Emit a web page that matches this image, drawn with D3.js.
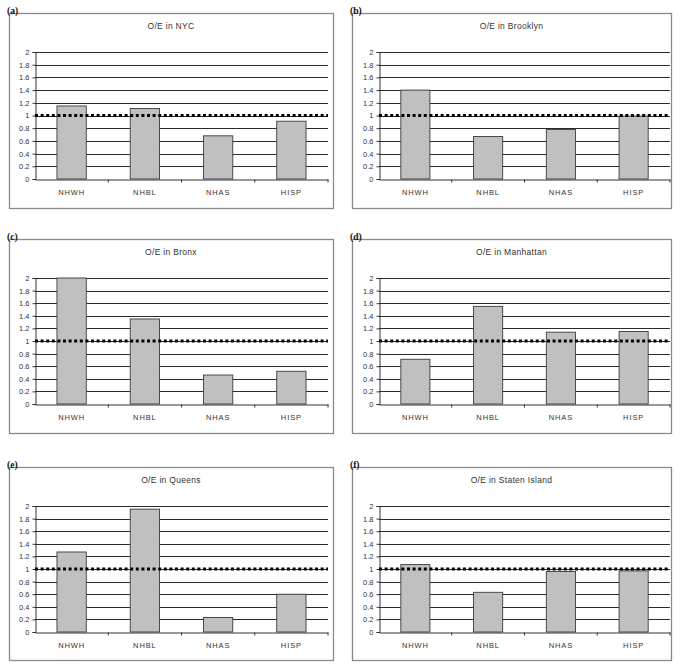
<!DOCTYPE html>
<html>
<head>
<meta charset="utf-8">
<script src="https://cdn.jsdelivr.net/npm/d3@7"></script>
<style>
  html, body { margin: 0; padding: 0; background: #fff; }
  svg { display: block; }
</style>
</head>
<body>
<svg id="chart" width="685" height="666"></svg>
<script>
// ---- data ----
const categories = ["NHWH", "NHBL", "NHAS", "HISP"];
const panelLabels = ["(a)", "(b)", "(c)", "(d)", "(e)", "(f)"];
const titles = ["O/E in NYC", "O/E in Brooklyn", "O/E in Bronx", "O/E in Manhattan", "O/E in Queens", "O/E in Staten Island"];
const nyc = [1.15, 1.11, 0.68, 0.91];
const brooklyn = [1.40, 0.67, 0.78, 0.99];
const bronx = [2.00, 1.35, 0.46, 0.52];
const manhattan = [0.71, 1.55, 1.14, 1.15];
const queens = [1.27, 1.95, 0.23, 0.60];
const statenIsland = [1.07, 0.63, 0.96, 0.97];
const yTickValues = [0, 0.2, 0.4, 0.6, 0.8, 1, 1.2, 1.4, 1.6, 1.8, 2];
const yTickLabels = ["0", "0.2", "0.4", "0.6", "0.8", "1", "1.2", "1.4", "1.6", "1.8", "2"];
const referenceValue = 1;
const yDomain = [0, 2];

const seriesList = [nyc, brooklyn, bronx, manhattan, queens, statenIsland];

// ---- layout ----
const cols = [
  { boxX: 9, boxW: 324, plotL: 35, plotR: 328 },
  { boxX: 352, boxW: 319, plotL: 379, plotR: 670 }
];
const rows = [
  { boxY: 13, boxH: 195, plotT: 52, plotB: 179 },
  { boxY: 239, boxH: 194, plotT: 278, plotB: 404 },
  { boxY: 467, boxH: 193, plotT: 506, plotB: 632 }
];

const svg = d3.select("#chart");
const font = "'Liberation Sans', Arial, sans-serif";

seriesList.forEach((values, i) => {
  const c = cols[i % 2], r = rows[Math.floor(i / 2)];
  const g = svg.append("g");

  // panel box
  g.append("rect")
    .attr("x", c.boxX + 0.5).attr("y", r.boxY + 0.5)
    .attr("width", c.boxW).attr("height", r.boxH)
    .attr("fill", "#fff").attr("stroke", "#8a8a8a").attr("stroke-width", 1.3);

  // panel label
  g.append("text")
    .attr("x", c.boxX - 2).attr("y", r.boxY + 1)
    .attr("font-family", "'Liberation Serif', 'Times New Roman', serif")
    .attr("font-weight", "bold").attr("font-size", 9.5)
    .attr("fill", "#111")
    .text(panelLabels[i]);

  // title
  g.append("text")
    .attr("x", c.boxX + c.boxW / 2).attr("y", r.boxY + 16)
    .attr("text-anchor", "middle")
    .attr("font-family", font).attr("font-size", 8.5)
    .attr("letter-spacing", 0.3)
    .attr("fill", "#333")
    .text(titles[i]);

  const x = d3.scaleBand().domain(categories).range([c.plotL, c.plotR]).paddingInner(0.6).paddingOuter(0.3);
  const xBand = d3.scaleBand().domain(categories).range([c.plotL, c.plotR]);
  const y = d3.scaleLinear().domain(yDomain).range([r.plotB, r.plotT]);

  // gridlines
  g.append("g").selectAll("line")
    .data(yTickValues.filter(v => v > 0))
    .join("line")
    .attr("x1", c.plotL).attr("x2", c.plotR)
    .attr("y1", d => Math.round(y(d)) + 0.5).attr("y2", d => Math.round(y(d)) + 0.5)
    .attr("stroke", "#2a2a2a").attr("stroke-width", 1);

  // bars
  g.append("g").selectAll("rect")
    .data(categories.map((k, j) => ({ k, v: values[j] })))
    .join("rect")
    .attr("x", d => x(d.k))
    .attr("y", d => y(d.v))
    .attr("width", x.bandwidth())
    .attr("height", d => y(0) - y(d.v))
    .attr("fill", "#c0c0c0")
    .attr("stroke", "#3a3a3a").attr("stroke-width", 0.9);

  // y axis
  const yAxis = d3.axisLeft(y)
    .tickValues(yTickValues)
    .tickFormat((d, j) => yTickLabels[j])
    .tickSize(3).tickPadding(3);
  const ya = g.append("g").attr("transform", `translate(${c.plotL + 0.5},0)`).call(yAxis);
  ya.select(".domain").attr("stroke", "#333");
  ya.selectAll(".tick line").attr("stroke", "#333");
  ya.selectAll(".tick text")
    .attr("font-family", font).attr("font-size", 7.5).attr("fill", "#333");

  // x axis
  const xAxis = d3.axisBottom(xBand).tickSize(0).tickPadding(10);
  const xa = g.append("g").attr("transform", `translate(0,${Math.round(y(0)) + 0.5})`).call(xAxis);
  xa.select(".domain").attr("stroke", "#333");
  xa.selectAll(".tick text")
    .attr("font-family", font).attr("font-size", 7.5)
    .attr("letter-spacing", 0.9).attr("fill", "#333");
  // tick marks between categories
  xa.append("g").selectAll("line")
    .data(categories.slice(1))
    .join("line")
    .attr("x1", d => xBand(d)).attr("x2", d => xBand(d))
    .attr("y1", 0).attr("y2", 3)
    .attr("stroke", "#333");
  xa.append("line")
    .attr("x1", c.plotR).attr("x2", c.plotR).attr("y1", 0).attr("y2", 3)
    .attr("stroke", "#333");

  // reference dotted line at 1
  g.append("line")
    .attr("x1", c.plotL).attr("x2", c.plotR)
    .attr("y1", y(referenceValue)).attr("y2", y(referenceValue))
    .attr("stroke", "#000").attr("stroke-width", 3)
    .attr("stroke-dasharray", "3,2.6");
});
</script>
</body>
</html>
